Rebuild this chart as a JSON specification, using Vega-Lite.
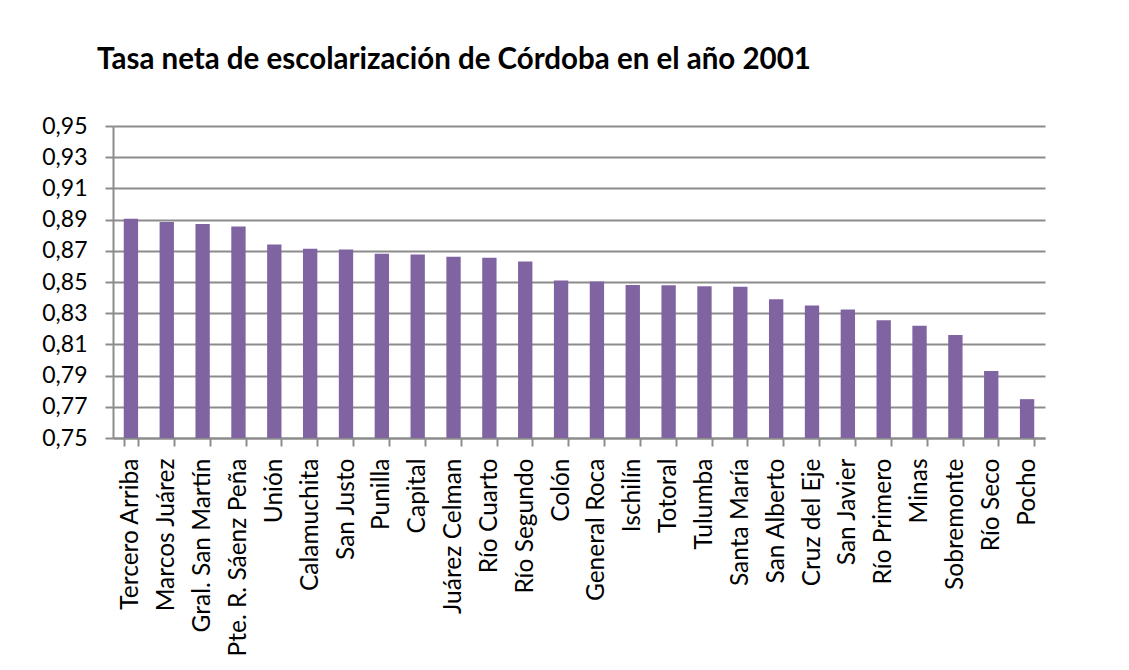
{
  "$schema": "https://vega.github.io/schema/vega-lite/v6.json",
  "width": 932,
  "height": 312,
  "autosize": {"type": "none"},
  "padding": {"left": 113, "top": 126, "right": 84, "bottom": 232},
  "background": "white",
  "title": {
    "text": "Tasa neta de escolarización de Córdoba en el año 2001",
    "anchor": "start",
    "frame": "group",
    "dx": -16,
    "offset": 17,
    "baseline": "alphabetic",
    "font": "Lato",
    "fontSize": 29.5,
    "fontWeight": "bold",
    "color": "#000000"
  },
  "config": {
    "view": {"stroke": null},
    "axis": {"labelFont": "Lato", "labelColor": "#000000", "domainColor": "#8c8c8c", "tickColor": "#8c8c8c", "gridColor": "#8c8c8c", "labelLimit": 0}
  },
  "data": {
    "values": [
      {"departamento": "Tercero Arriba", "tasa": 0.8905},
      {"departamento": "Marcos Juárez", "tasa": 0.8885},
      {"departamento": "Gral. San Martín", "tasa": 0.8872},
      {"departamento": "Pte. R. Sáenz Peña", "tasa": 0.8855},
      {"departamento": "Unión", "tasa": 0.874},
      {"departamento": "Calamuchita", "tasa": 0.8713},
      {"departamento": "San Justo", "tasa": 0.8709},
      {"departamento": "Punilla", "tasa": 0.8681},
      {"departamento": "Capital", "tasa": 0.8677},
      {"departamento": "Juárez Celman", "tasa": 0.8662},
      {"departamento": "Río Cuarto", "tasa": 0.8655},
      {"departamento": "Río Segundo", "tasa": 0.8632},
      {"departamento": "Colón", "tasa": 0.851},
      {"departamento": "General Roca", "tasa": 0.8504},
      {"departamento": "Ischilín", "tasa": 0.8481},
      {"departamento": "Totoral", "tasa": 0.8479},
      {"departamento": "Tulumba", "tasa": 0.8472},
      {"departamento": "Santa María", "tasa": 0.847},
      {"departamento": "San Alberto", "tasa": 0.8389},
      {"departamento": "Cruz del Eje", "tasa": 0.835},
      {"departamento": "San Javier", "tasa": 0.8324},
      {"departamento": "Río Primero", "tasa": 0.8255},
      {"departamento": "Minas", "tasa": 0.8219},
      {"departamento": "Sobremonte", "tasa": 0.816},
      {"departamento": "Río Seco", "tasa": 0.7929},
      {"departamento": "Pocho", "tasa": 0.7749}
    ]
  },
  "mark": {"type": "bar", "color": "#8064A2"},
  "encoding": {
    "x": {
      "field": "departamento",
      "type": "nominal",
      "sort": null,
      "scale": {"paddingInner": 0.6, "paddingOuter": 0.3},
      "axis": {
        "title": null,
        "labelAngle": -90,
        "labelFontSize": 24.5,
        "labelPadding": 12,
        "tickSize": 8,
        "tickWidth": 2,
        "tickBand": "extent",
        "domainWidth": 2,
        "grid": false
      }
    },
    "y": {
      "field": "tasa",
      "type": "quantitative",
      "scale": {"domain": [0.75, 0.95], "zero": false, "nice": false},
      "axis": {
        "title": null,
        "values": [0.75, 0.77, 0.79, 0.81, 0.83, 0.85, 0.87, 0.89, 0.91, 0.93, 0.95],
        "labelExpr": "replace(format(datum.value, '.2f'), '.', ',')",
        "labelFontSize": 23,
        "labelPadding": 18,
        "tickSize": 8,
        "tickWidth": 2,
        "domainWidth": 2,
        "grid": true,
        "gridWidth": 2
      }
    },
    "y2": {"datum": 0.75}
  }
}
